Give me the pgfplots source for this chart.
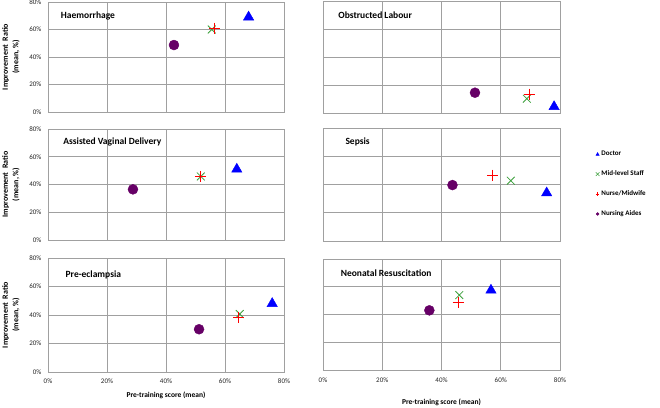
\documentclass[border=0pt]{standalone}
\usepackage{fontspec}
\setmainfont{Carlito}
\usepackage{pgfplots}
\pgfplotsset{compat=1.18}
\definecolor{cdoc}{RGB}{0,0,255}
\definecolor{cmid}{RGB}{60,160,60}
\definecolor{cnur}{RGB}{255,0,0}
\definecolor{caid}{RGB}{102,0,102}
\definecolor{cgrid}{RGB}{160,160,160}
\tikzset{ttl/.style={anchor=west, font=\bfseries\fontsize{9.5}{11}\selectfont}}
\pgfplotsset{
  panel/.style={
    scale only axis, width=236pt, height=111pt,
    xmin=0, xmax=80, ymin=0, ymax=80,
    xtick={0,20,40,60,80}, ytick={0,20,40,60,80},
    grid=major, major grid style={cgrid, line width=0.9pt},
    axis line style={cgrid, line width=0.9pt},
    tick align=outside, major tick length=3pt,
    tick style={cgrid, line width=0.9pt},
    xtick style={draw=none}, ytick style={draw=none},
    tick label style={font=\fontsize{7}{8}\selectfont, text=black!85},
    /pgf/number format/assume math mode=true,
    xticklabels={}, yticklabels={},
    clip=false,
  },
  ylab/.style={
    yticklabels={0\%,20\%,40\%,60\%,80\%},
    ytick style={cgrid, line width=0.9pt},
    ylabel={Improvement\ \ Ratio\\(mean, \%)},
    ylabel style={align=center, font=\bfseries\fontsize{8}{10.5}\selectfont, yshift=3pt},
  },
  doc/.style={only marks, mark=triangle*, mark size=6pt, color=cdoc},
  mid/.style={only marks, mark=x, mark size=5.5pt, color=cmid, line width=0.8pt},
  nur/.style={only marks, mark=+, mark size=5.5pt, color=cnur, line width=0.8pt},
  aid/.style={only marks, mark=*, mark size=5pt, color=caid},
}
\begin{document}
\begin{tikzpicture}
\path[use as bounding box] (0pt,0pt) rectangle (660pt,407pt);
% Top left: Haemorrhage
\begin{axis}[panel, ylab, at={(48pt,295pt)}, anchor=south west, height=110pt]
\addplot[doc] coordinates {(68,69)};
\addplot[mid] coordinates {(55.5,60)};
\addplot[nur] coordinates {(56.5,61)};
\addplot[aid] coordinates {(42.7,48.7)};
\node[ttl] at (rel axis cs:0.04,0.87) {Haemorrhage};
\end{axis}
% Top right: Obstructed Labour
\begin{axis}[panel, at={(323pt,294pt)}, anchor=south west, width=237pt, height=112pt]
\addplot[doc] coordinates {(78,4.5)};
\addplot[mid] coordinates {(68.8,10.2)};
\addplot[nur] coordinates {(69.7,13.5)};
\addplot[aid] coordinates {(51.3,14.5)};
\node[ttl] at (rel axis cs:0.05,0.87) {Obstructed Labour};
\end{axis}
% Middle left: Assisted Vaginal Delivery
\begin{axis}[panel, ylab, at={(48pt,167pt)}, anchor=south west, height=111pt]
\addplot[doc] coordinates {(64,51)};
\addplot[mid] coordinates {(51.8,45.8)};
\addplot[nur] coordinates {(51.8,45.8)};
\addplot[aid] coordinates {(28.8,36.5)};
\node[ttl] at (rel axis cs:0.05,0.88) {Assisted Vaginal Delivery};
\end{axis}
% Middle right: Sepsis
\begin{axis}[panel, at={(323pt,166pt)}, anchor=south west, width=237pt, height=113pt,
  legend style={at={(1.15,0.83)}, anchor=north west, draw=none, fill=none,
    font=\bfseries\fontsize{7}{8}\selectfont, row sep=9.5pt, inner xsep=0pt,
    /tikz/every even column/.append style={column sep=1pt}},
  legend cell align=left,
  legend image post style={mark size=1.8pt, line width=0.5pt}]
\addplot[doc] coordinates {(75.5,34)};
\addlegendentry{Doctor}
\addplot[mid, legend image post style={mark size=2.6pt}] coordinates {(63.4,42.7)};
\addlegendentry{Mid-level Staff}
\addplot[nur] coordinates {(57.3,46.7)};
\addlegendentry{Nurse/Midwife}
\addplot[aid, legend image post style={mark size=1.4pt}] coordinates {(43.7,39.6)};
\addlegendentry{Nursing Aides}
\node[ttl] at (rel axis cs:0.08,0.88) {Sepsis};
\end{axis}
% Bottom left: Pre-eclampsia
\begin{axis}[panel, ylab, at={(48pt,35pt)}, anchor=south west, height=114pt,
  xticklabels={0\%,20\%,40\%,60\%,80\%},
  xtick style={cgrid, line width=0.9pt},
  xlabel={Pre-training score (mean)},
  xlabel style={font=\bfseries\fontsize{7.5}{9}\selectfont, yshift=-2pt}]
\addplot[doc] coordinates {(76,48)};
\addplot[mid] coordinates {(65,40.7)};
\addplot[nur] coordinates {(64.7,38.4)};
\addplot[aid] coordinates {(51.2,30)};
\node[ttl] at (rel axis cs:0.06,0.85) {Pre-eclampsia};
\end{axis}
% Bottom right: Neonatal Resuscitation
\begin{axis}[panel, at={(323pt,37pt)}, anchor=south west, width=237pt, height=111pt,
  xticklabels={0\%,20\%,40\%,60\%,80\%},
  xticklabel style={yshift=-1pt},
  xlabel={Pre-training score (mean)},
  xlabel style={font=\bfseries\fontsize{7.5}{9}\selectfont, yshift=-10pt}]
\addplot[doc] coordinates {(56.7,57.5)};
\addplot[mid] coordinates {(46,54)};
\addplot[nur] coordinates {(45.6,49)};
\addplot[aid] coordinates {(35.9,43)};
\node[ttl] at (rel axis cs:0.06,0.87) {Neonatal Resuscitation};
\end{axis}
\end{tikzpicture}
\end{document}
